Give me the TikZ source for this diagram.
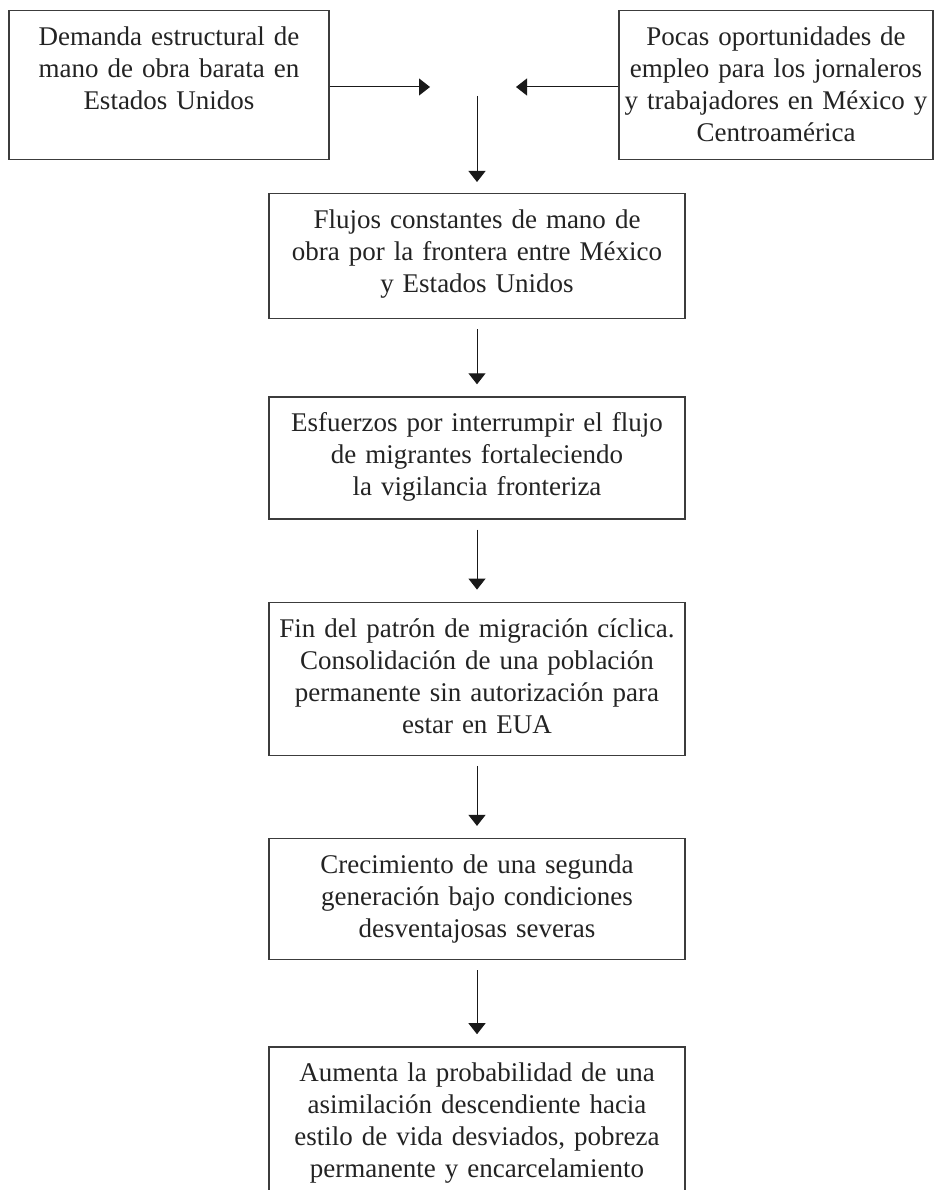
\documentclass[tikz,border=0pt]{standalone}
\usepackage{fontspec}
\setmainfont{Liberation Serif}
\usetikzlibrary{arrows.meta, positioning}
\definecolor{boxgray}{RGB}{60,60,60}
\definecolor{textgray}{RGB}{35,35,35}

\begin{document}
\begin{tikzpicture}[x=1pt, y=-1pt,
    caja/.style={draw=boxgray, line width=1.3pt, anchor=north, inner xsep=4pt, inner ysep=0pt,
                 align=center, text=textgray, font=\fontsize{27}{32}\selectfont, text height=35pt},
    flecha/.style={-{Triangle[length=11pt, width=17pt]}, line width=1pt, black!90}]
    \useasboundingbox (0,0) rectangle (934,1190);
    \clip (0,0) rectangle (934,1190);

    % Causes at the top
    \node[caja, text width=312pt, text depth=114pt] (demanda) at (169,10) {Demanda estructural de\\mano de obra barata en\\Estados Unidos};
    \node[caja, text width=306pt, text depth=114pt] (pocas) at (776,10) {Pocas oportunidades de\\empleo para los jornaleros\\y trabajadores en México y\\Centroamérica};

    % Chain of consequences - each box below the previous one
    \node[caja, text width=408pt, text depth=90pt] (flujos) at (477,193) {Flujos constantes de mano de\\obra por la frontera entre México\\y Estados Unidos};
    \node[caja, text width=408pt, text depth=87pt, below=77pt of flujos] (esfuerzos) {Esfuerzos por interrumpir el flujo\\de migrantes fortaleciendo\\la vigilancia fronteriza};
    \node[caja, text width=408pt, text depth=118pt, below=82pt of esfuerzos] (fin) {Fin del patrón de migración cíclica.\\Consolidación de una población\\permanente sin autorización para\\estar en EUA};
    \node[caja, text width=408pt, text depth=86pt, below=82pt of fin] (crecimiento) {Crecimiento de una segunda\\generación bajo condiciones\\desventajosas severas};
    \node[caja, text width=408pt, text depth=170pt, below=86pt of crecimiento] (aumenta) {Aumenta la probabilidad de una\\asimilación descendiente hacia\\estilo de vida desviados, pobreza\\permanente y encarcelamiento};

    % Free ends of the top arrows
    \coordinate (puntaIzq) at (430,87);
    \coordinate (puntaDer) at (516,87);
    \coordinate (inicio) at (477,96);

    \draw[flecha] (demanda.east |- puntaIzq) -- (puntaIzq);
    \draw[flecha] (pocas.west |- puntaDer) -- (puntaDer);
    \draw[flecha, shorten >=11pt] (inicio) -- (flujos.north);
    \foreach \desde/\hasta in {flujos/esfuerzos, esfuerzos/fin, fin/crecimiento, crecimiento/aumenta}
        \draw[flecha, shorten <=10pt, shorten >=12pt] (\desde) -- (\hasta);
\end{tikzpicture}
\end{document}
